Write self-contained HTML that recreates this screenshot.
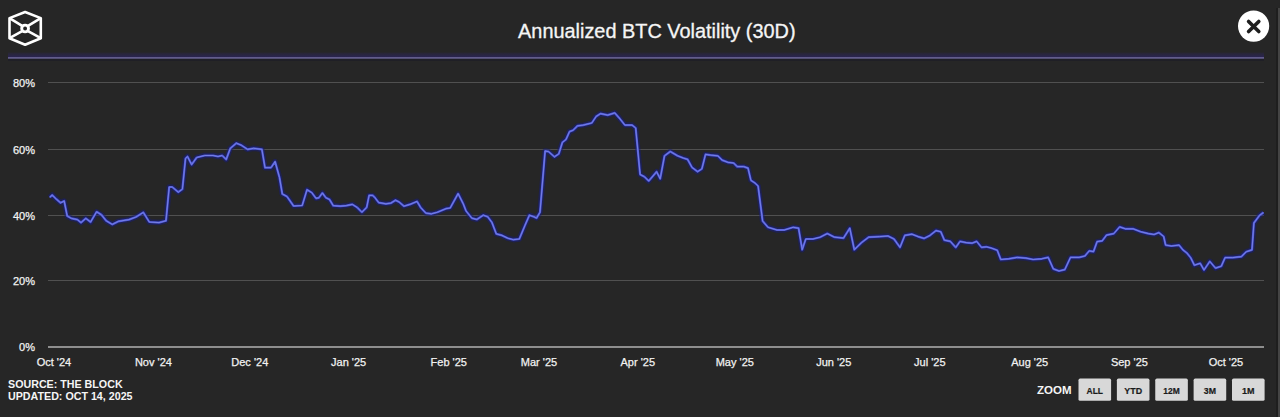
<!DOCTYPE html>
<html><head><meta charset="utf-8">
<style>
html,body{margin:0;padding:0;background:#262626;width:1280px;height:417px;overflow:hidden;}
svg{display:block;font-family:"Liberation Sans",sans-serif;}
.t{fill:#f2f2f2;font-size:11px;stroke:#f2f2f2;stroke-width:0.25px;}
.title{fill:#f5f5f5;font-size:19.9px;stroke:#f5f5f5;stroke-width:0.3px;}
.src{fill:#f5f5f5;font-size:10.7px;font-weight:bold;}
.zoom{fill:#f5f5f5;font-size:11.5px;font-weight:bold;}
.btn{fill:#1a1a1a;font-size:9.7px;font-weight:bold;stroke:#1a1a1a;stroke-width:0.2px;}
</style></head>
<body>
<svg width="1280" height="417" viewBox="0 0 1280 417">
<rect width="1280" height="417" fill="#262626"/>
<rect x="1276" y="8" width="2" height="409" fill="#1e1e1e"/>
<rect x="1278" y="8" width="2" height="409" fill="#444"/>
<!-- logo -->
<g fill="none" stroke="#fff" stroke-width="2.6" stroke-linejoin="round">
<path d="M25.1,12 L40.8,18.1 L40.8,38.2 L25.1,44.8 L9.5,38.2 L9.5,18.1 Z"/>
<path d="M9.5,18.1 L22.2,25.8 M40.8,18.1 L28,25.8 M9.5,38.2 L22.2,31.2 M40.8,38.2 L28,31.2"/>
<circle cx="25.1" cy="28.5" r="3.4" stroke-width="2.9"/>
</g>
<text x="656.8" y="37.6" text-anchor="middle" class="title">Annualized BTC Volatility (30D)</text>
<circle cx="1253.6" cy="26.1" r="15.6" fill="#fff"/>
<path d="M1248.6,21.4 L1258.8,31.6 M1258.8,21.4 L1248.6,31.6" stroke="#1e1e1e" stroke-width="3.6" stroke-linecap="round"/>
<defs><linearGradient id="hb" x1="0" y1="0" x2="0" y2="1"><stop offset="0" stop-color="#282632"/><stop offset="1" stop-color="#2a2450"/></linearGradient></defs><rect x="8" y="52.5" width="1256" height="4.5" fill="url(#hb)"/><rect x="8" y="59" width="1256" height="2" fill="#1f1f26"/><line x1="8" y1="57.8" x2="1264" y2="57.8" stroke="#625c8c" stroke-width="1.7"/>
<line x1="48" y1="82.5" x2="1264" y2="82.5" stroke="#505050" stroke-width="1"/><line x1="48" y1="149.5" x2="1264" y2="149.5" stroke="#505050" stroke-width="1"/><line x1="48" y1="215.5" x2="1264" y2="215.5" stroke="#505050" stroke-width="1"/><line x1="48" y1="280.5" x2="1264" y2="280.5" stroke="#505050" stroke-width="1"/>
<line x1="48" y1="347" x2="1264" y2="347" stroke="#8e8e8e" stroke-width="1.8"/>
<g class="t"><text x="35" y="86.5" text-anchor="end">80%</text><text x="35" y="153.5" text-anchor="end">60%</text><text x="35" y="219.5" text-anchor="end">40%</text><text x="35" y="284.5" text-anchor="end">20%</text><text x="35" y="351" text-anchor="end">0%</text><text x="53.9" y="366" text-anchor="middle">Oct '24</text><text x="153.4" y="366" text-anchor="middle">Nov '24</text><text x="249.8" y="366" text-anchor="middle">Dec '24</text><text x="348.6" y="366" text-anchor="middle">Jan '25</text><text x="448.8" y="366" text-anchor="middle">Feb '25</text><text x="539" y="366" text-anchor="middle">Mar '25</text><text x="637.8" y="366" text-anchor="middle">Apr '25</text><text x="734.8" y="366" text-anchor="middle">May '25</text><text x="833.7" y="366" text-anchor="middle">Jun '25</text><text x="929.8" y="366" text-anchor="middle">Jul '25</text><text x="1029.7" y="366" text-anchor="middle">Aug '25</text><text x="1129.4" y="366" text-anchor="middle">Sep '25</text><text x="1225.9" y="366" text-anchor="middle">Oct '25</text></g>
<path d="M49.8,197.4 L52.2,195.0 L56.4,199.2 L60.6,202.8 L64.2,201.0 L67.2,216.0 L71.4,218.4 L77.4,219.6 L81.0,222.6 L85.8,218.4 L90.6,222.0 L96.6,211.8 L101.4,214.8 L106.2,220.8 L112.2,224.4 L118.2,221.4 L129.0,219.6 L136.0,217.0 L143.3,212.4 L149.3,222.0 L159.0,222.6 L166.0,220.8 L169.2,187.0 L172.2,187.0 L178.3,192.2 L182.4,189.1 L185.5,158.5 L187.5,156.5 L191.6,164.6 L196.7,157.5 L204.8,155.5 L213.0,155.5 L218.0,156.5 L222.2,155.5 L226.2,159.5 L230.3,148.3 L236.4,143.2 L241.5,145.3 L247.6,149.4 L253.7,148.3 L261.9,149.4 L265.0,167.7 L271.0,167.7 L275.1,161.6 L279.5,177.5 L282.3,194.0 L286.9,196.4 L293.6,206.0 L302.2,205.5 L307.0,189.7 L311.8,192.6 L316.0,198.3 L318.8,197.8 L322.4,193.0 L326.0,197.8 L329.6,199.6 L333.2,205.6 L340.3,206.2 L346.3,205.6 L352.3,204.4 L357.1,207.4 L361.9,212.2 L366.7,207.4 L369.1,195.4 L372.7,195.4 L375.1,197.8 L378.7,202.6 L385.9,203.8 L390.7,203.2 L395.5,200.2 L399.1,202.0 L403.9,206.2 L409.9,204.4 L417.0,201.4 L420.6,207.4 L425.8,213.1 L431.5,213.8 L437.3,212.3 L445.9,208.7 L450.2,208.0 L458.1,193.6 L463.2,203.7 L466.0,210.9 L471.8,218.1 L476.8,219.5 L483.3,215.2 L487.6,216.7 L491.9,222.4 L496.3,233.9 L502.0,235.4 L507.8,238.2 L513.5,239.7 L519.3,239.0 L525.0,225.3 L529.4,215.2 L533.7,216.7 L536.5,218.1 L540.0,212.3 L545.1,151.0 L548.7,151.7 L554.4,156.8 L558.8,153.9 L562.4,142.4 L566.0,139.5 L569.5,131.6 L573.1,130.2 L577.5,125.9 L583.2,125.1 L591.8,123.0 L596.1,116.5 L600.5,113.6 L607.7,115.1 L614.8,112.9 L619.2,117.9 L624.9,125.1 L632.1,125.1 L635.7,128.0 L640.1,174.5 L644.4,176.7 L648.7,181.0 L653.0,176.0 L656.6,171.7 L660.2,178.8 L664.5,155.8 L670.3,151.5 L677.5,155.8 L683.2,158.0 L687.6,159.4 L691.9,167.3 L697.6,171.7 L701.9,168.8 L705.5,154.4 L710.6,155.1 L717.8,155.8 L722.1,160.1 L727.8,162.3 L733.6,163.0 L737.2,166.6 L743.7,166.6 L748.0,168.1 L750.9,180.3 L755.2,183.2 L758.1,186.0 L762.6,221.0 L768.0,227.3 L777.0,230.0 L784.2,230.0 L793.2,227.3 L798.6,228.2 L802.2,249.7 L805.8,239.0 L813.0,239.0 L820.1,237.2 L827.3,233.6 L834.5,237.2 L843.5,238.1 L849.8,228.2 L854.3,249.7 L861.5,242.6 L868.7,237.2 L879.6,236.6 L888.0,236.0 L894.0,239.0 L900.0,247.4 L904.8,235.4 L912.0,234.2 L918.0,236.6 L924.0,238.4 L930.0,235.4 L936.0,230.6 L940.8,231.8 L944.4,240.2 L950.4,241.4 L955.8,247.4 L960.0,241.4 L966.0,242.6 L972.0,243.2 L976.7,241.4 L981.5,247.4 L986.3,246.8 L991.1,248.0 L997.2,250.2 L1000.8,259.5 L1008.7,258.8 L1017.3,257.4 L1026.0,258.1 L1033.1,259.5 L1041.8,258.8 L1048.2,257.4 L1053.3,268.9 L1059.0,271.0 L1064.8,269.6 L1070.5,257.4 L1079.2,257.4 L1084.9,256.0 L1089.2,250.9 L1093.5,251.6 L1097.1,241.6 L1102.2,240.9 L1106.5,235.1 L1113.8,233.6 L1119.6,226.9 L1125.3,228.8 L1133.0,228.8 L1140.7,231.7 L1148.4,233.6 L1154.1,234.5 L1158.9,232.6 L1163.7,236.5 L1165.6,245.1 L1171.4,246.0 L1179.1,245.1 L1182.9,249.9 L1186.7,252.8 L1190.6,257.6 L1194.4,265.2 L1200.2,263.3 L1204.0,270.0 L1209.8,261.4 L1215.5,268.1 L1221.3,266.2 L1225.1,257.6 L1232.8,257.6 L1241.4,256.6 L1246.2,251.8 L1252.0,249.9 L1253.9,223.0 L1259.6,215.3 L1263.5,212.5" fill="none" stroke="#161c80" stroke-opacity="0.5" stroke-width="5.5" stroke-linejoin="round"/><path d="M49.8,197.4 L52.2,195.0 L56.4,199.2 L60.6,202.8 L64.2,201.0 L67.2,216.0 L71.4,218.4 L77.4,219.6 L81.0,222.6 L85.8,218.4 L90.6,222.0 L96.6,211.8 L101.4,214.8 L106.2,220.8 L112.2,224.4 L118.2,221.4 L129.0,219.6 L136.0,217.0 L143.3,212.4 L149.3,222.0 L159.0,222.6 L166.0,220.8 L169.2,187.0 L172.2,187.0 L178.3,192.2 L182.4,189.1 L185.5,158.5 L187.5,156.5 L191.6,164.6 L196.7,157.5 L204.8,155.5 L213.0,155.5 L218.0,156.5 L222.2,155.5 L226.2,159.5 L230.3,148.3 L236.4,143.2 L241.5,145.3 L247.6,149.4 L253.7,148.3 L261.9,149.4 L265.0,167.7 L271.0,167.7 L275.1,161.6 L279.5,177.5 L282.3,194.0 L286.9,196.4 L293.6,206.0 L302.2,205.5 L307.0,189.7 L311.8,192.6 L316.0,198.3 L318.8,197.8 L322.4,193.0 L326.0,197.8 L329.6,199.6 L333.2,205.6 L340.3,206.2 L346.3,205.6 L352.3,204.4 L357.1,207.4 L361.9,212.2 L366.7,207.4 L369.1,195.4 L372.7,195.4 L375.1,197.8 L378.7,202.6 L385.9,203.8 L390.7,203.2 L395.5,200.2 L399.1,202.0 L403.9,206.2 L409.9,204.4 L417.0,201.4 L420.6,207.4 L425.8,213.1 L431.5,213.8 L437.3,212.3 L445.9,208.7 L450.2,208.0 L458.1,193.6 L463.2,203.7 L466.0,210.9 L471.8,218.1 L476.8,219.5 L483.3,215.2 L487.6,216.7 L491.9,222.4 L496.3,233.9 L502.0,235.4 L507.8,238.2 L513.5,239.7 L519.3,239.0 L525.0,225.3 L529.4,215.2 L533.7,216.7 L536.5,218.1 L540.0,212.3 L545.1,151.0 L548.7,151.7 L554.4,156.8 L558.8,153.9 L562.4,142.4 L566.0,139.5 L569.5,131.6 L573.1,130.2 L577.5,125.9 L583.2,125.1 L591.8,123.0 L596.1,116.5 L600.5,113.6 L607.7,115.1 L614.8,112.9 L619.2,117.9 L624.9,125.1 L632.1,125.1 L635.7,128.0 L640.1,174.5 L644.4,176.7 L648.7,181.0 L653.0,176.0 L656.6,171.7 L660.2,178.8 L664.5,155.8 L670.3,151.5 L677.5,155.8 L683.2,158.0 L687.6,159.4 L691.9,167.3 L697.6,171.7 L701.9,168.8 L705.5,154.4 L710.6,155.1 L717.8,155.8 L722.1,160.1 L727.8,162.3 L733.6,163.0 L737.2,166.6 L743.7,166.6 L748.0,168.1 L750.9,180.3 L755.2,183.2 L758.1,186.0 L762.6,221.0 L768.0,227.3 L777.0,230.0 L784.2,230.0 L793.2,227.3 L798.6,228.2 L802.2,249.7 L805.8,239.0 L813.0,239.0 L820.1,237.2 L827.3,233.6 L834.5,237.2 L843.5,238.1 L849.8,228.2 L854.3,249.7 L861.5,242.6 L868.7,237.2 L879.6,236.6 L888.0,236.0 L894.0,239.0 L900.0,247.4 L904.8,235.4 L912.0,234.2 L918.0,236.6 L924.0,238.4 L930.0,235.4 L936.0,230.6 L940.8,231.8 L944.4,240.2 L950.4,241.4 L955.8,247.4 L960.0,241.4 L966.0,242.6 L972.0,243.2 L976.7,241.4 L981.5,247.4 L986.3,246.8 L991.1,248.0 L997.2,250.2 L1000.8,259.5 L1008.7,258.8 L1017.3,257.4 L1026.0,258.1 L1033.1,259.5 L1041.8,258.8 L1048.2,257.4 L1053.3,268.9 L1059.0,271.0 L1064.8,269.6 L1070.5,257.4 L1079.2,257.4 L1084.9,256.0 L1089.2,250.9 L1093.5,251.6 L1097.1,241.6 L1102.2,240.9 L1106.5,235.1 L1113.8,233.6 L1119.6,226.9 L1125.3,228.8 L1133.0,228.8 L1140.7,231.7 L1148.4,233.6 L1154.1,234.5 L1158.9,232.6 L1163.7,236.5 L1165.6,245.1 L1171.4,246.0 L1179.1,245.1 L1182.9,249.9 L1186.7,252.8 L1190.6,257.6 L1194.4,265.2 L1200.2,263.3 L1204.0,270.0 L1209.8,261.4 L1215.5,268.1 L1221.3,266.2 L1225.1,257.6 L1232.8,257.6 L1241.4,256.6 L1246.2,251.8 L1252.0,249.9 L1253.9,223.0 L1259.6,215.3 L1263.5,212.5" fill="none" stroke="#4a55d8" stroke-width="2.2" stroke-linejoin="round"/><path d="M49.8,197.4 L52.2,195.0 L56.4,199.2 L60.6,202.8 L64.2,201.0 L67.2,216.0 L71.4,218.4 L77.4,219.6 L81.0,222.6 L85.8,218.4 L90.6,222.0 L96.6,211.8 L101.4,214.8 L106.2,220.8 L112.2,224.4 L118.2,221.4 L129.0,219.6 L136.0,217.0 L143.3,212.4 L149.3,222.0 L159.0,222.6 L166.0,220.8 L169.2,187.0 L172.2,187.0 L178.3,192.2 L182.4,189.1 L185.5,158.5 L187.5,156.5 L191.6,164.6 L196.7,157.5 L204.8,155.5 L213.0,155.5 L218.0,156.5 L222.2,155.5 L226.2,159.5 L230.3,148.3 L236.4,143.2 L241.5,145.3 L247.6,149.4 L253.7,148.3 L261.9,149.4 L265.0,167.7 L271.0,167.7 L275.1,161.6 L279.5,177.5 L282.3,194.0 L286.9,196.4 L293.6,206.0 L302.2,205.5 L307.0,189.7 L311.8,192.6 L316.0,198.3 L318.8,197.8 L322.4,193.0 L326.0,197.8 L329.6,199.6 L333.2,205.6 L340.3,206.2 L346.3,205.6 L352.3,204.4 L357.1,207.4 L361.9,212.2 L366.7,207.4 L369.1,195.4 L372.7,195.4 L375.1,197.8 L378.7,202.6 L385.9,203.8 L390.7,203.2 L395.5,200.2 L399.1,202.0 L403.9,206.2 L409.9,204.4 L417.0,201.4 L420.6,207.4 L425.8,213.1 L431.5,213.8 L437.3,212.3 L445.9,208.7 L450.2,208.0 L458.1,193.6 L463.2,203.7 L466.0,210.9 L471.8,218.1 L476.8,219.5 L483.3,215.2 L487.6,216.7 L491.9,222.4 L496.3,233.9 L502.0,235.4 L507.8,238.2 L513.5,239.7 L519.3,239.0 L525.0,225.3 L529.4,215.2 L533.7,216.7 L536.5,218.1 L540.0,212.3 L545.1,151.0 L548.7,151.7 L554.4,156.8 L558.8,153.9 L562.4,142.4 L566.0,139.5 L569.5,131.6 L573.1,130.2 L577.5,125.9 L583.2,125.1 L591.8,123.0 L596.1,116.5 L600.5,113.6 L607.7,115.1 L614.8,112.9 L619.2,117.9 L624.9,125.1 L632.1,125.1 L635.7,128.0 L640.1,174.5 L644.4,176.7 L648.7,181.0 L653.0,176.0 L656.6,171.7 L660.2,178.8 L664.5,155.8 L670.3,151.5 L677.5,155.8 L683.2,158.0 L687.6,159.4 L691.9,167.3 L697.6,171.7 L701.9,168.8 L705.5,154.4 L710.6,155.1 L717.8,155.8 L722.1,160.1 L727.8,162.3 L733.6,163.0 L737.2,166.6 L743.7,166.6 L748.0,168.1 L750.9,180.3 L755.2,183.2 L758.1,186.0 L762.6,221.0 L768.0,227.3 L777.0,230.0 L784.2,230.0 L793.2,227.3 L798.6,228.2 L802.2,249.7 L805.8,239.0 L813.0,239.0 L820.1,237.2 L827.3,233.6 L834.5,237.2 L843.5,238.1 L849.8,228.2 L854.3,249.7 L861.5,242.6 L868.7,237.2 L879.6,236.6 L888.0,236.0 L894.0,239.0 L900.0,247.4 L904.8,235.4 L912.0,234.2 L918.0,236.6 L924.0,238.4 L930.0,235.4 L936.0,230.6 L940.8,231.8 L944.4,240.2 L950.4,241.4 L955.8,247.4 L960.0,241.4 L966.0,242.6 L972.0,243.2 L976.7,241.4 L981.5,247.4 L986.3,246.8 L991.1,248.0 L997.2,250.2 L1000.8,259.5 L1008.7,258.8 L1017.3,257.4 L1026.0,258.1 L1033.1,259.5 L1041.8,258.8 L1048.2,257.4 L1053.3,268.9 L1059.0,271.0 L1064.8,269.6 L1070.5,257.4 L1079.2,257.4 L1084.9,256.0 L1089.2,250.9 L1093.5,251.6 L1097.1,241.6 L1102.2,240.9 L1106.5,235.1 L1113.8,233.6 L1119.6,226.9 L1125.3,228.8 L1133.0,228.8 L1140.7,231.7 L1148.4,233.6 L1154.1,234.5 L1158.9,232.6 L1163.7,236.5 L1165.6,245.1 L1171.4,246.0 L1179.1,245.1 L1182.9,249.9 L1186.7,252.8 L1190.6,257.6 L1194.4,265.2 L1200.2,263.3 L1204.0,270.0 L1209.8,261.4 L1215.5,268.1 L1221.3,266.2 L1225.1,257.6 L1232.8,257.6 L1241.4,256.6 L1246.2,251.8 L1252.0,249.9 L1253.9,223.0 L1259.6,215.3 L1263.5,212.5" fill="none" stroke="#7c84e4" stroke-width="0.9" stroke-linejoin="round"/>
<text x="8" y="388" class="src">SOURCE: THE BLOCK</text>
<text x="8" y="400.3" class="src">UPDATED: OCT 14, 2025</text>
<text x="1037" y="393.8" class="zoom">ZOOM</text>
<rect x="1078.50" y="378.6" width="32.6" height="22.2" rx="1.6" fill="#d8d8d8"/><text x="1094.80" y="393.9" text-anchor="middle" class="btn" textLength="16.5" lengthAdjust="spacingAndGlyphs">ALL</text><rect x="1116.88" y="378.6" width="32.6" height="22.2" rx="1.6" fill="#d8d8d8"/><text x="1133.17" y="393.9" text-anchor="middle" class="btn" textLength="17.8" lengthAdjust="spacingAndGlyphs">YTD</text><rect x="1155.25" y="378.6" width="32.6" height="22.2" rx="1.6" fill="#d8d8d8"/><text x="1171.55" y="393.9" text-anchor="middle" class="btn" textLength="16.4" lengthAdjust="spacingAndGlyphs">12M</text><rect x="1193.62" y="378.6" width="32.6" height="22.2" rx="1.6" fill="#d8d8d8"/><text x="1209.92" y="393.9" text-anchor="middle" class="btn" textLength="12.2" lengthAdjust="spacingAndGlyphs">3M</text><rect x="1232.00" y="378.6" width="32.6" height="22.2" rx="1.6" fill="#d8d8d8"/><text x="1248.30" y="393.9" text-anchor="middle" class="btn" textLength="12.5" lengthAdjust="spacingAndGlyphs">1M</text>
</svg>
</body></html>
